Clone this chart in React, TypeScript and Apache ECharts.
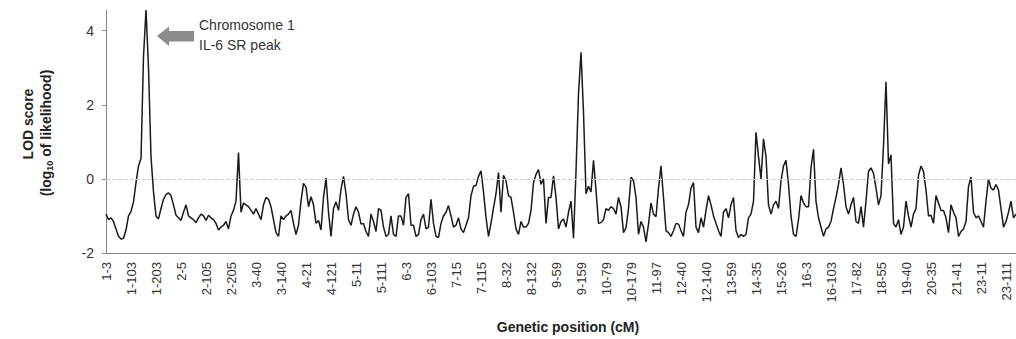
import React, { useEffect, useRef } from "react";
import * as echarts from "echarts";

// Tick labels on the x axis (marker names, one every 100 positions)
const tickLabels = [
  "1-3", "1-103", "1-203", "2-5", "2-105", "2-205", "3-40", "3-140", "4-21", "4-121",
  "5-11", "5-111", "6-3", "6-103", "7-15", "7-115", "8-32", "8-132", "9-59", "9-159",
  "10-79", "10-179", "11-97", "12-40", "12-140", "13-59", "14-35", "15-26", "16-3", "16-103",
  "17-82", "18-55", "19-40", "20-35", "21-41", "23-11", "23-111",
];

// LOD scores, one value every 10 positions
const lodPart1 = [
  -0.95, -1.1, -1.05, -1.15, -1.35, -1.55, -1.62, -1.6, -1.38, -1.0,
  -0.88, -0.62, -0.1, 0.35, 0.55, 3.3, 4.56, 3.0, 0.6, -0.35,
  -1.0, -1.08, -0.8, -0.55, -0.42, -0.38, -0.45, -0.7, -0.98, -1.05,
  -1.12, -0.9, -0.7, -1.0, -1.05, -1.1, -1.18, -1.05, -0.95, -1.0,
  -1.12, -0.98, -1.05, -1.1, -1.2, -1.38, -1.3, -1.25, -1.15, -1.35,
  -1.0, -0.85, -0.6, 0.71, -0.9, -0.65, -0.7, -0.75, -0.85, -0.95,
  -0.8, -0.95, -1.1, -0.7, -0.5, -0.55, -0.75, -1.1, -1.45, -1.55,
  -1.0, -1.1, -1.0, -0.95, -0.85, -1.2, -1.5, -1.25, -0.6, -0.12,
  -0.22, -0.75, -0.48, -0.7, -1.2, -1.12, -1.38, -0.5, 0.02, -0.9,
];
const lodPart2 = [
  -1.55, -0.8, -0.62, -0.85, -0.28, 0.07, -0.4, -1.1, -1.25, -0.95,
  -0.75, -0.9, -1.22, -1.2, -1.42, -1.55, -0.95, -1.15, -1.42, -0.8,
  -0.85, -1.3, -1.55, -1.5, -1.0, -1.5, -1.55, -1.0, -1.0, -1.25,
  -0.5, -0.4, -1.25, -1.25, -1.55, -1.5, -1.1, -0.95, -1.35, -1.3,
  -0.55, -1.2, -1.55, -1.58, -1.2, -1.0, -0.9, -0.72, -1.0, -1.3,
  -1.25, -1.05, -1.35, -1.45, -1.25, -1.05, -0.45, -0.2, -0.18, 0.07,
  0.22, -0.35, -1.04, -1.55, -1.2, -0.78, -0.4, 0.17, -0.9, 0.1,
  -0.05, -0.45, -0.5, -0.9, -1.35, -1.5, -1.15, -1.3, -1.3, -1.2,
  -0.85, -0.1, 0.12, 0.25, -0.15, 0.0, -1.2, -0.5, -0.5, 0.08,
];
const lodPart3 = [
  -0.5, -1.35, -1.15, -1.08, -1.3, -0.9, -0.6, -1.6, 0.2, 2.3,
  3.42, 1.8, -0.4, -0.2, -0.35, 0.5, -0.3, -1.2, -1.18, -1.1,
  -0.8, -0.85, -0.75, -0.8, -0.95, -0.5, -0.75, -1.45, -1.32, -0.8,
  0.05, -0.05, -0.5, -1.5, -1.15, -1.3, -1.7, -1.22, -0.65, -0.95,
  -1.02, -0.25, 0.35, -0.5, -1.4, -1.45, -1.55, -1.4, -1.2, -1.22,
  -1.4, -1.55, -0.9, -0.7, -0.25, -0.1, -1.3, -1.45, -1.05, -1.3,
  -0.85, -0.45, -0.7, -1.0, -1.2, -1.4, -1.55, -0.9, -0.8, -1.05,
  -0.7, -0.5, -1.4, -1.58, -1.5, -1.55, -1.5, -1.05, -0.95, -0.6,
  1.26, 0.6, 0.0, 1.08, 0.6, -0.7, -0.95, -0.7, -0.6, -0.8,
];
const lodPart4 = [
  -0.05, 0.35, 0.5, -0.15, -1.0, -1.5, -1.55, -1.1, -0.45, -0.65,
  -0.75, -0.75, 0.3, 0.8, -0.6, -1.05, -1.3, -1.55, -1.35, -1.3,
  -1.15, -0.8, -0.5, -0.15, 0.3, -0.15, -0.75, -0.95, -0.7, -0.5,
  -1.15, -1.2, -0.75, -1.3, -0.6, 0.2, 0.3, 0.15, -0.25, -0.7,
  -0.45, 0.9, 2.62, 0.4, 0.65, -1.2, -1.3, -1.1, -1.5, -1.3,
  -0.6, -1.0, -1.3, -0.95, -0.8, 0.1, 0.35, 0.2, -0.3, -1.0,
  -0.98, -1.2, -0.45, -0.65, -0.85, -0.85, -1.05, -1.45, -0.7, -0.9,
  -1.05, -1.55, -1.42, -1.35, -1.15, -0.2, 0.05, -0.9, -1.05, -1.0,
  -1.15, -1.3, -0.6, 0.0, -0.25, -0.3, -0.15, -0.3, -0.8, -1.3,
  -1.15, -0.9, -0.6, -1.05, -0.95,
];

const STEP = 10; // positions per data value
const FONT = '"Liberation Sans", Arial, Helvetica, sans-serif';

export default function App() {
  const ref = useRef<HTMLDivElement>(null);

  useEffect(() => {
    if (!ref.current) return;
    const chart = echarts.init(ref.current, undefined, { renderer: "svg" });
    const lod = [...lodPart1, ...lodPart2, ...lodPart3, ...lodPart4];
    const data = lod.map((v, i) => [i * STEP, v]);
    const xMax = (lod.length - 1) * STEP;

    chart.setOption({
      animation: false,
      grid: { left: 106, right: 0, top: 10, bottom: 86 },
      xAxis: {
        type: "value",
        min: 0,
        max: xMax,
        interval: 10 * STEP,
        axisLine: { show: true, onZero: false, lineStyle: { color: "#8a8a8a", width: 1 } },
        axisTick: { show: false },
        splitLine: { show: false },
        axisLabel: {
          rotate: 90,
          margin: 9,
          fontSize: 13,
          color: "#333",
          fontFamily: FONT,
          showMaxLabel: false,
          formatter: (v: number) => {
            const idx = v / (10 * STEP);
            return Number.isInteger(idx) && tickLabels[idx] ? tickLabels[idx] : "";
          },
        },
      },
      yAxis: {
        type: "value",
        min: -2,
        max: 4.56,
        interval: 2,
        axisLine: { show: true, lineStyle: { color: "#8a8a8a", width: 1 } },
        axisTick: { show: true, length: 4, lineStyle: { color: "#8a8a8a" } },
        splitLine: { show: false },
        axisLabel: {
          fontSize: 14,
          color: "#333",
          margin: 12,
          fontFamily: FONT,
          showMaxLabel: false,
        },
      },
      series: [
        {
          type: "line",
          data,
          showSymbol: false,
          lineStyle: { color: "#1a1a1a", width: 1.5 },
          markLine: {
            silent: true,
            symbol: "none",
            label: { show: false },
            lineStyle: { type: "dashed", color: "#d0d0d0", width: 1 },
            data: [{ yAxis: 0 }],
          },
        },
      ],
      graphic: [
        {
          type: "text",
          x: 28,
          y: 124,
          rotation: Math.PI / 2,
          style: {
            text: "LOD score",
            font: `bold 14px ${FONT}`,
            fill: "#222",
            align: "center",
            verticalAlign: "middle",
            textAlign: "center",
            textVerticalAlign: "middle",
          },
        },
        {
          type: "text",
          x: 46,
          y: 133,
          rotation: Math.PI / 2,
          style: {
            text: "{m|(log}{s|10}{m| of likelihood)}",
            align: "center",
            verticalAlign: "middle",
            textAlign: "center",
            textVerticalAlign: "middle",
            rich: {
              m: { fontSize: 14, fontWeight: "bold", fontFamily: FONT, fill: "#222", lineHeight: 16 },
              s: { fontSize: 9, fontWeight: "bold", fontFamily: FONT, fill: "#222", padding: [8, 0, 0, 0] },
            },
          },
        },
        {
          type: "text",
          x: 568,
          y: 327,
          style: {
            text: "Genetic position (cM)",
            font: `bold 14px ${FONT}`,
            fill: "#222",
            align: "center",
            verticalAlign: "middle",
            textAlign: "center",
            textVerticalAlign: "middle",
          },
        },
        {
          type: "polygon",
          shape: {
            points: [
              [157, 36], [169, 26.5], [169, 31], [194, 31], [194, 41.5], [169, 41.5], [169, 46],
            ],
          },
          style: { fill: "#8c8c8c" },
        },
        {
          type: "text",
          x: 199,
          y: 25,
          style: {
            text: "Chromosome 1",
            font: `14px ${FONT}`,
            fill: "#333",
            align: "left",
            verticalAlign: "middle",
            textAlign: "left",
            textVerticalAlign: "middle",
          },
        },
        {
          type: "text",
          x: 199,
          y: 45,
          style: {
            text: "IL-6 SR peak",
            font: `14px ${FONT}`,
            fill: "#333",
            align: "left",
            verticalAlign: "middle",
            textAlign: "left",
            textVerticalAlign: "middle",
          },
        },
      ],
    });

    return () => chart.dispose();
  }, []);

  return (
    <div
      ref={ref}
      style={{ position: "fixed", left: 0, top: 0, width: 1016, height: 339, background: "#fff" }}
    />
  );
}
